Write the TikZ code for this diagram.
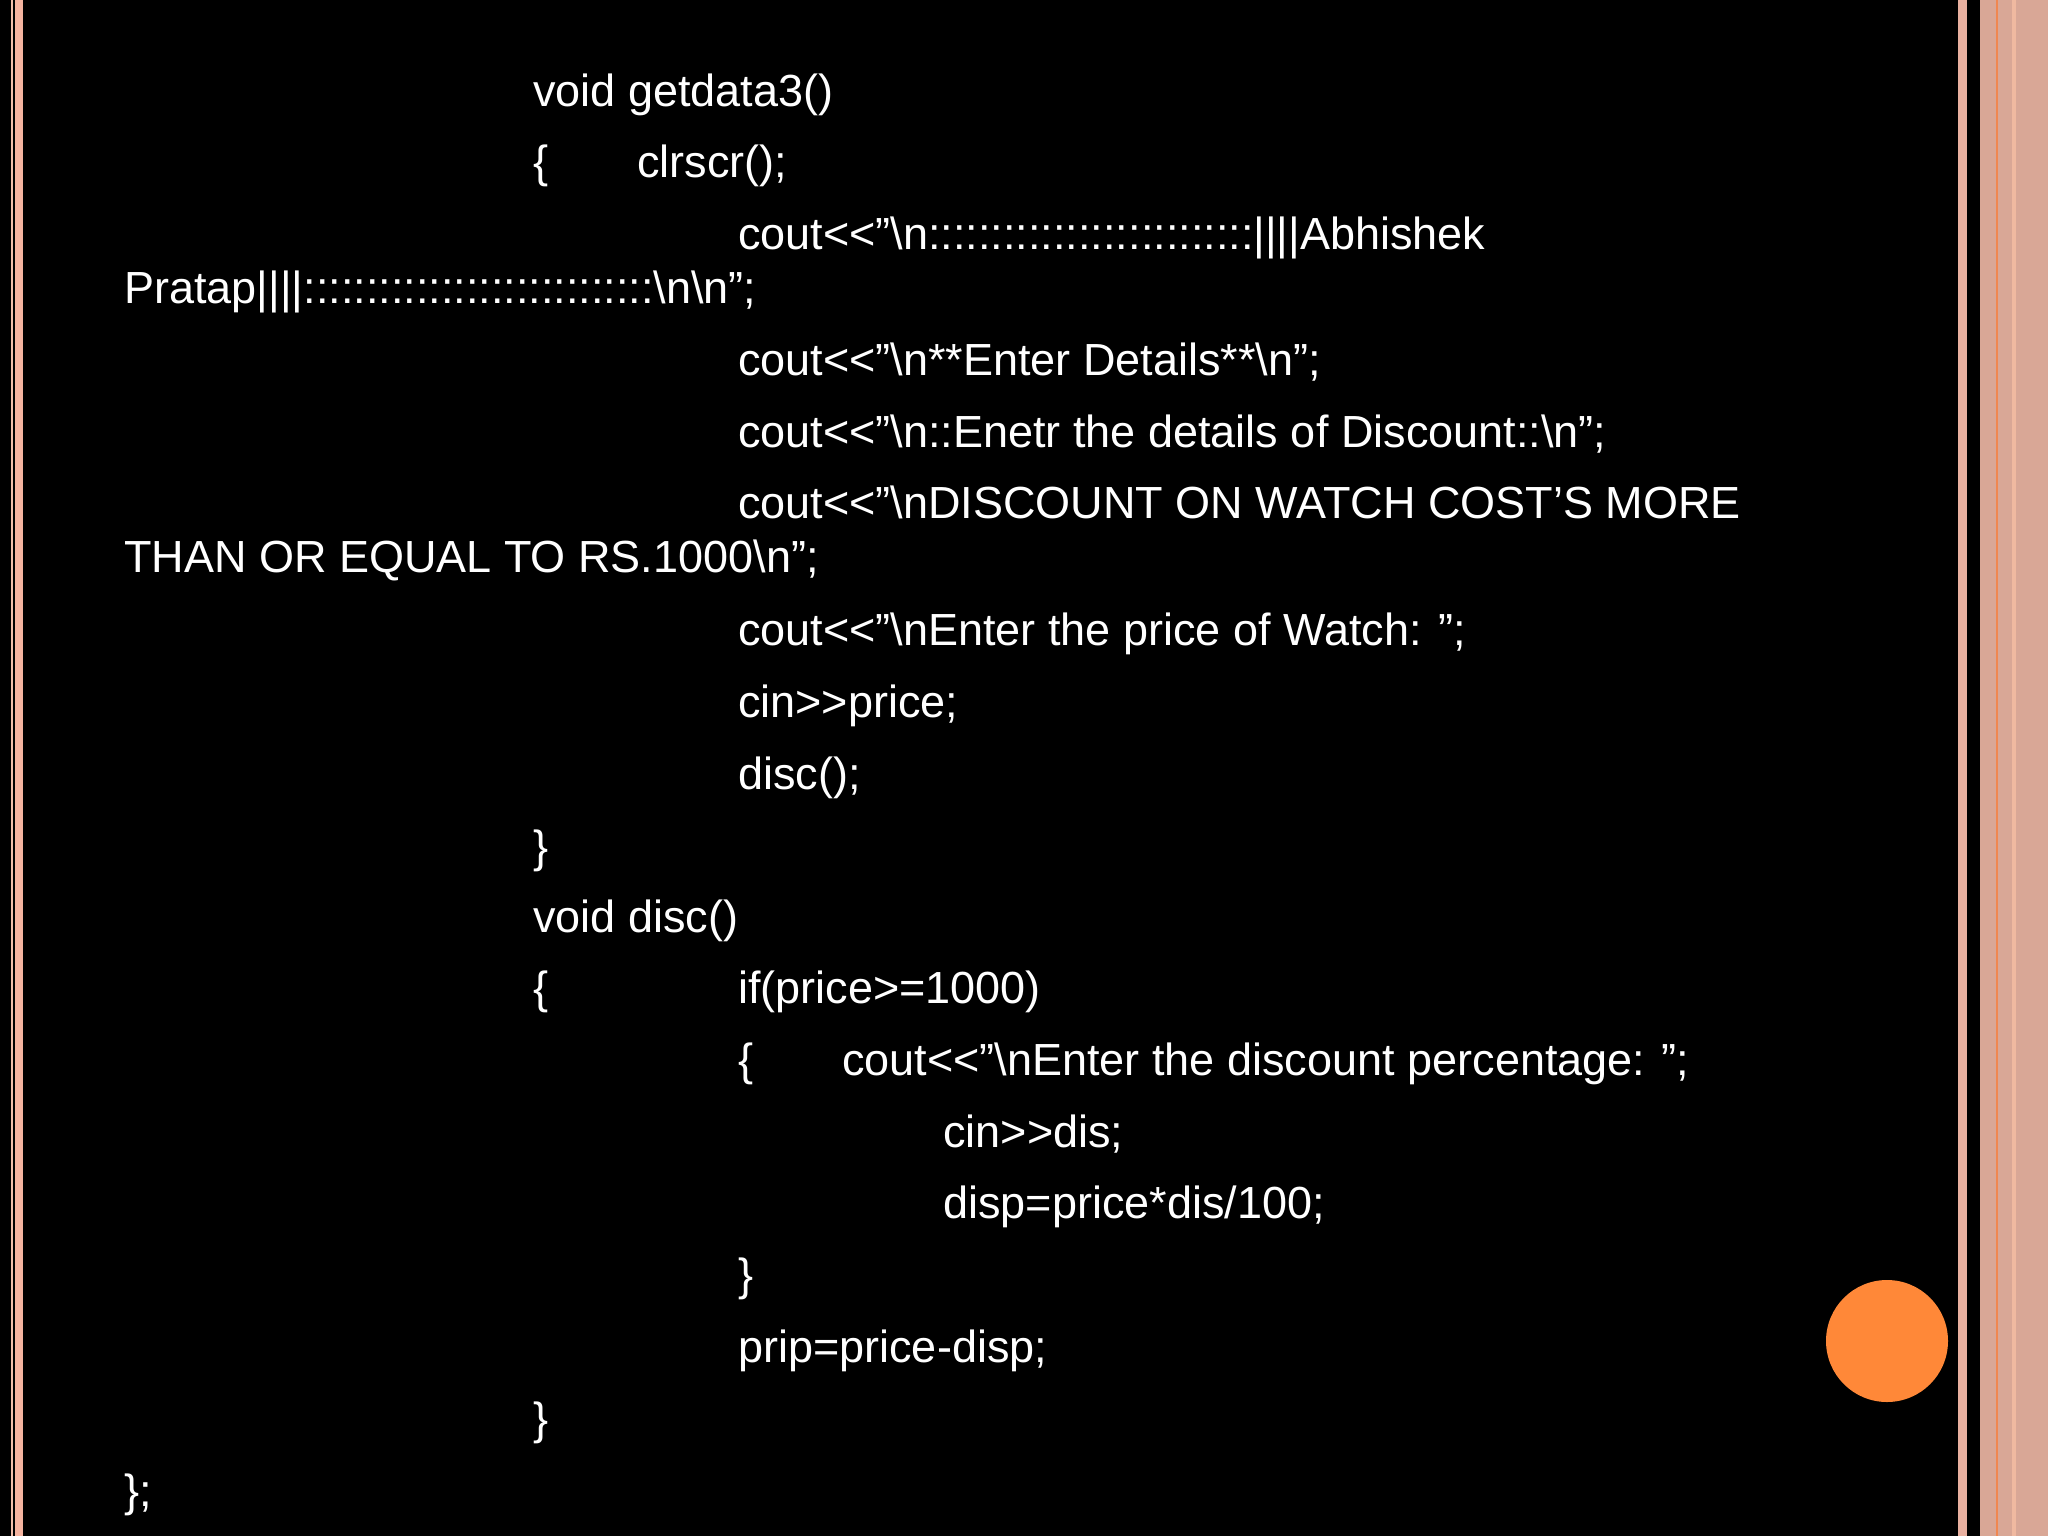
\documentclass[tikz,border=0pt]{standalone}
\usepackage{fontspec}
\setmainfont{Liberation Sans}
\begin{document}
\begin{tikzpicture}[x=1pt,y=-1pt,
  code/.style={anchor=base west,inner sep=0pt,text=white,font=\fontsize{45}{45}\selectfont}]
\useasboundingbox (0,0) rectangle (2048,1536);
\fill[black] (0,0) rectangle (2048,1536);
% left stripes
\fill[fill={rgb,255:red,240;green,190;blue,170}] (11,0) rectangle (13,1536);
\fill[fill={rgb,255:red,245;green,180;blue,160}] (15,0) rectangle (23,1536);
% right stripes
\fill[fill={rgb,255:red,232;green,176;blue,160}] (1958,0) rectangle (1967,1536);
\fill[fill={rgb,255:red,217;green,167;blue,150}] (1980,0) rectangle (2048,1536);
\fill[fill={rgb,255:red,240;green,135;blue,80}] (1996,0) rectangle (1998,1536);
\fill[fill={rgb,255:red,240;green,185;blue,160}] (2012,0) rectangle (2016,1536);
\fill[fill={rgb,255:red,255;green,136;blue,56}] (1887,1341) circle (61);
\newcommand{\bs}{\textbackslash{}}
\newcommand{\qq}{\symbol{34}}
\node[code] (l1) at (533,107) {void getdata3()};
\node[code] (l2a) at (533,178) {\{};
\node[code] (l2b) at (637,178) {clrscr();};
\node[code] (l3) at (738,249) {cout<{}<\qq\bs n::::::::::::::::::::::::::||||Abhishek};
\node[code] (l4) at (124,303) {Pratap||||::::::::::::::::::::::::::::\bs n\bs n\qq;};
\node[code] (l5) at (738,375) {cout<{}<\qq\bs n**Enter Details**\bs n\qq;};
\node[code] (l6) at (738,447) {cout<{}<\qq\bs n::Enetr the details of Discount::\bs n\qq;};
\node[code] (l7) at (738,518) {cout<{}<\qq\bs nDISCOUNT ON WATCH COST\symbol{39}S MORE};
\node[code] (l8) at (124,572) {THAN OR EQUAL TO RS.1000\bs n\qq;};
\node[code] (l9) at (738,645) {cout<{}<\qq\bs nEnter the price of Watch: \qq;};
\node[code] (l10) at (738,717) {cin>{}>price;};
\node[code] (l11) at (738,789) {disc();};
\node[code] (l12) at (533,862) {\}};
\node[code] (l13) at (533,932) {void disc()};
\node[code] (l14a) at (533,1003) {\{};
\node[code] (l14b) at (738,1003) {if(price>=1000)};
\node[code] (l15a) at (738,1075) {\{};
\node[code] (l15b) at (842,1075) {cout<{}<\qq\bs nEnter the discount percentage: \qq;};
\node[code] (l16) at (943,1147) {cin>{}>dis;};
\node[code] (l17) at (943,1218) {disp=price*dis/100;};
\node[code] (l18) at (738,1290) {\}};
\node[code] (l19) at (738,1362) {prip=price-disp;};
\node[code] (l20) at (533,1434) {\}};
\node[code] (l21) at (124,1506) {\};};
\end{tikzpicture}
\end{document}
